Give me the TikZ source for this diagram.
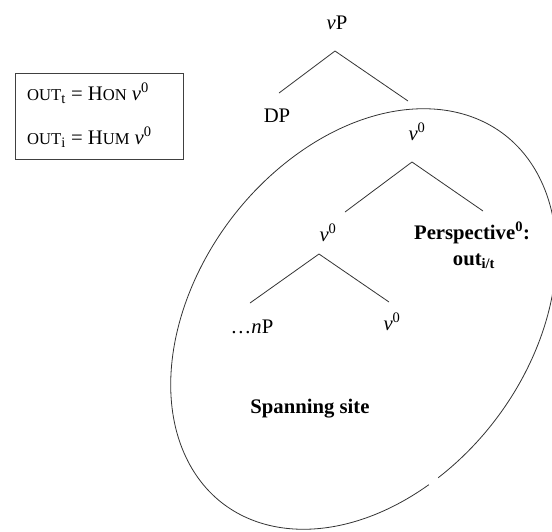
\documentclass[tikz,border=0pt]{standalone}
\usepackage{fontspec}
\setmainfont{Liberation Serif}
\newcommand\fakesc[1]{{\fontsize{16.6}{20}\selectfont #1}}
\begin{document}
\begin{tikzpicture}[x=1pt,y=-1pt,
  lbl/.style={inner sep=0pt, font=\fontsize{20.7}{24.8}\selectfont},
  branch/.style={draw=black!80, line width=0.8pt},
  legendbox/.style={draw=black!75, line width=0.8pt, inner sep=0pt, anchor=north west, minimum width=168pt, minimum height=86pt}
]
\useasboundingbox (0,0) rectangle (552,531);
% legend box
\node[legendbox] (legend) at (15,73) {};
\node[lbl, anchor=base west] (l1) at (27,100) {\fakesc{OUT}\textsubscript{t} = H\fakesc{ON} \textit{v}\textsuperscript{0}};
\node[lbl, anchor=base west] (l2) at (27,144) {\fakesc{OUT}\textsubscript{i} = H\fakesc{UM} \textit{v}\textsuperscript{0}};
% tree
\node[lbl, anchor=base] (vP) at (337,29) {\textit{v}P};
\coordinate (vPapex) at (335,51);
\node[lbl, anchor=base] (DP) at (277,122) {DP};
\coordinate (DPend) at (279,93);
\node[lbl, anchor=base] (vtop) at (417,140) {\textit{v}\textsuperscript{0}};
\coordinate (vtopend) at (408,101);
\coordinate (vtopapex) at (412,162);
\node[lbl, anchor=base] (vmid) at (328,241) {\textit{v}\textsuperscript{0}};
\coordinate (vmidend) at (345,212);
\node[lbl, anchor=base] (persp) at (472,239) {\bfseries Perspective\textsuperscript{0}:};
\node[lbl, anchor=base] (outit) at (474,265) {\bfseries out\textsubscript{i/t}};
\coordinate (perspend) at (483,211);
\coordinate (vmidapex) at (319,254);
\node[lbl, anchor=base] (nP) at (252,333) {…\textit{n}P};
\coordinate (nPend) at (250,303);
\node[lbl, anchor=base] (vbot) at (392,330) {\textit{v}\textsuperscript{0}};
\coordinate (vbotend) at (389,302);
\node[lbl, anchor=base] (span) at (310,413) {\bfseries Spanning site};
\draw[branch] (DPend) -- (vPapex) -- (vtopend);
\draw[branch] (vmidend) -- (vtopapex) -- (perspend);
\draw[branch] (nPend) -- (vmidapex) -- (vbotend);
% spanning-site ellipse
\begin{scope}[shift={(363.5,319)}, rotate=52.8]
\draw[branch] (249.5:232pt and 166pt) arc[start angle=249.5, end angle=606.5, x radius=232pt, y radius=166pt];
\end{scope}
\end{tikzpicture}
\end{document}
